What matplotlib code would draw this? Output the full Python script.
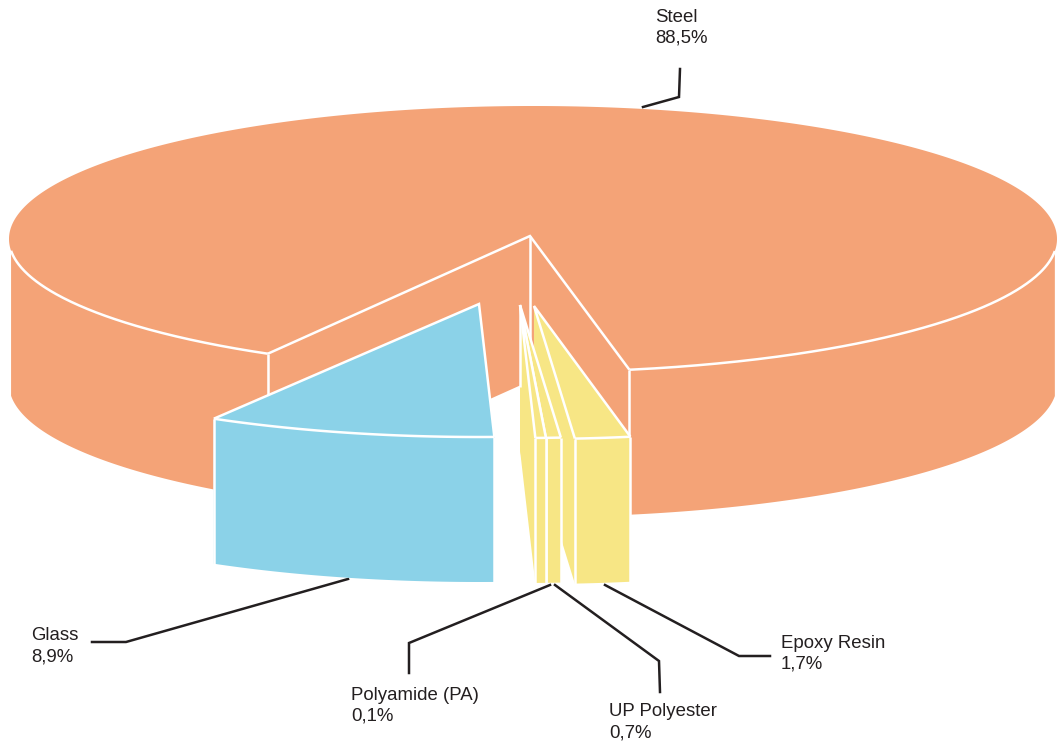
import numpy as np
import matplotlib
matplotlib.use('Agg')
import matplotlib.pyplot as plt
from matplotlib.patches import Polygon

plt.rcParams['font.family'] = ['Liberation Sans', 'DejaVu Sans']

# Printed labels
materials = ['Epoxy Resin', 'UP Polyester', 'Polyamide (PA)', 'Glass', 'Steel']
printed_share = ['1,7%', '0,7%', '0,1%', '8,9%', '88,5%']
# Share of the circle each slice takes up in the drawing (the two thin ones
# are split differently in the picture compared to what they print)
drawn_share = [1.7, 0.455, 0.32, 8.9, 88.5]
colors = ['#f7e685', '#f7e685', '#f7e685', '#8bd2e8', '#f4a377']

# Pie geometry in pixels, y going down
CX, CY = 533, 239
RX, RY = 524, 133
DEPTH = 145
START = 79.4
# where each slice's tip ended up after pulling it out
tips = [(534, 306), (520, 305), (520, 305), (479, 304), (530, 236)]

WHITE = dict(color='white', lw=1.8, solid_capstyle='butt', solid_joinstyle='miter')
DARK = '#231f20'

fig = plt.figure(figsize=(10.61, 7.42), dpi=100)
ax = fig.add_axes([0, 0, 1, 1])
ax.set_xlim(0, 1061)
ax.set_ylim(742, 0)
ax.axis('off')

sweeps = 360 * np.array(drawn_share) / sum(drawn_share)
edges = START + np.concatenate([[0], np.cumsum(sweeps)])
edges[-1] = START + 360


def arc(tip, a, b, n=200):
    # rim of a slice, relative to its own tip
    t = np.radians(np.linspace(a, b, n))
    return tip[0] + RX * np.cos(t), tip[1] + RY * np.sin(t)


def poly(xs, ys, color, zorder):
    ax.add_patch(Polygon(np.column_stack([xs, ys]), closed=True, fc=color,
                         ec='none', zorder=zorder))


def line(xs, ys, zorder):
    ax.plot(xs, ys, zorder=zorder, **WHITE)


# Leader lines go below the pie
leaders = [
    ([643, 679, 680], [107, 97, 69]),
    ([92, 126, 348], [642, 642, 579]),
    ([409, 409, 550], [673, 643, 585]),
    ([660, 659, 555], [692, 661, 585]),
    ([770, 739, 605], [656, 656, 585]),
]
for xs, ys in leaders:
    ax.plot(xs, ys, color=DARK, lw=1.8, zorder=1, solid_joinstyle='miter')

# Steel, the big body with the notch cut out
a, b = edges[4], edges[5]
tip = tips[4]
x, y = arc((CX, CY), a, b, 600)
x1, y1 = arc((CX, CY), a, 180)
x2, y2 = arc((CX, CY), 360, b)
keep1 = np.abs(x1 - CX) < 522
keep2 = np.abs(x2 - CX) < 522
poly(np.r_[x1[keep1], x1[keep1][::-1]], np.r_[y1[keep1], y1[keep1][::-1] + DEPTH], colors[4], 2)
poly(np.r_[x2[keep2], x2[keep2][::-1]], np.r_[y2[keep2], y2[keep2][::-1] + DEPTH], colors[4], 2)
# inner walls
poly([tip[0], x[0], x[0], tip[0]], [tip[1], y[0], y[0] + DEPTH, tip[1] + DEPTH], colors[4], 2)
poly([tip[0], x[-1], x[-1], tip[0]], [tip[1], y[-1], y[-1] + DEPTH, tip[1] + DEPTH], colors[4], 2)
# top
poly(np.r_[tip[0], x], np.r_[tip[1], y], colors[4], 3)
line(x1[keep1], y1[keep1], 4)
line(x2[keep2], y2[keep2], 4)
line([x[0], tip[0], x[-1]], [y[0], tip[1], y[-1]], 4)
line([tip[0], tip[0]], [tip[1], tip[1] + DEPTH], 4)
line([x[0], x[0]], [y[0], y[0] + DEPTH], 4)
line([x[-1], x[-1]], [y[-1], y[-1] + DEPTH], 4)


# The pulled out slices, epoxy first so the thin ones sit on top of its wall
def slice_3d(i, z):
    tip = tips[i]
    x, y = arc(tip, edges[i], edges[i + 1], 60)
    c = colors[i]
    # side wall on the left
    poly([tip[0], x[-1], x[-1], tip[0]], [tip[1], y[-1], y[-1] + DEPTH, tip[1] + DEPTH], c, z)
    # rim wall
    poly(np.r_[x, x[::-1]], np.r_[y, y[::-1] + DEPTH], c, z)
    # top
    poly(np.r_[tip[0], x], np.r_[tip[1], y], c, z)
    line(np.r_[x[0], tip[0], x[-1]], np.r_[y[0], tip[1], y[-1]], z + 0.5)
    line(x, y, z + 0.5)
    line([x[0], x[0]], [y[0], y[0] + DEPTH], z + 0.5)
    line([x[-1], x[-1]], [y[-1], y[-1] + DEPTH], z + 0.5)


slice_3d(0, 5)
slice_3d(1, 6)
slice_3d(2, 7)
slice_3d(3, 8)
# polyamide's back edge only shows where it sits in front of the steel wall
line([tips[2][0], tips[2][0]], [tips[2][1], 387], 8)

# Labels
label_xy = [(781, 643), (609, 712), (351, 695), (31, 636), (655, 17)]
for name, share, (lx, ly) in zip(materials, printed_share, label_xy):
    ax.text(lx, ly, name, fontsize=13.4, color=DARK, va='center', ha='left', zorder=10)
    ax.text(lx, ly + 21, share, fontsize=13.4, color=DARK, va='center', ha='left', zorder=10)

fig.savefig('out.png', dpi=100, facecolor='white')
